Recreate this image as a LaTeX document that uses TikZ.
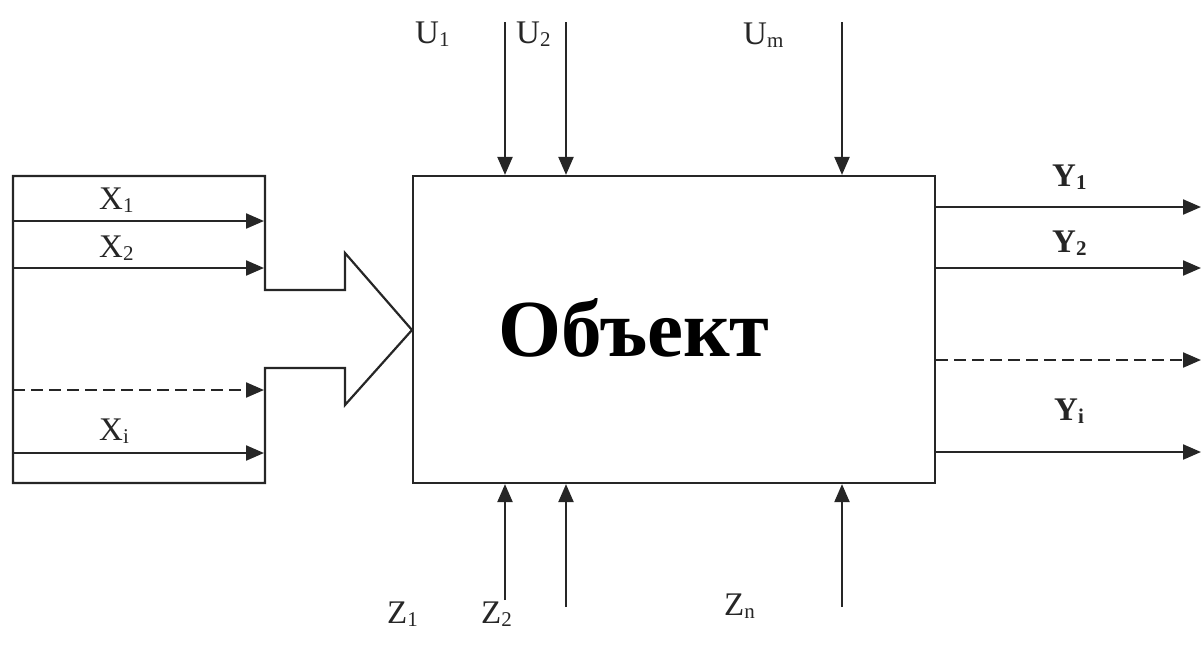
\documentclass[tikz,border=0pt]{standalone}
\usepackage{fontspec}
\setmainfont{Liberation Serif}
\usetikzlibrary{arrows.meta}
\newcommand{\sbx}[1]{\raisebox{-0.12em}{\fontsize{21}{21}\selectfont #1}}
\tikzset{
  ln/.style={line width=2.2pt, draw=black!85},
  arr/.style={ln, -{Triangle[length=18pt,width=15pt]}},
  dsh/.style={arr, dash pattern=on 12pt off 6pt},
  lbl/.style={inner sep=0pt, anchor=base west, font=\fontsize{33}{33}\selectfont, text=black!85},
  blbl/.style={lbl, font=\fontsize{33}{33}\selectfont\bfseries},
  box/.style={ln, fill=white, inner sep=0pt}
}
\begin{document}
\begin{tikzpicture}[x=1pt,y=-1pt]
\useasboundingbox (0,0) rectangle (1201,646);
% object box
\node[box, minimum width=522pt, minimum height=307pt] (obj) at (674,329.5) {};
\node[inner sep=0pt, anchor=base, font=\fontsize{81}{81}\selectfont\bfseries] (objtxt) at (634,356) {Объект};
% left input block with big arrow
\draw[ln, line join=miter] (265,290) -- (265,176) -- (13,176) -- (13,483) -- (265,483) -- (265,368)
  -- (345,368) -- (345,405) -- (412,330) -- (345,253) -- (345,290) -- cycle;
\coordinate (x1s) at (13,221); \coordinate (x1e) at (264,221);
\coordinate (x2s) at (13,268); \coordinate (x2e) at (264,268);
\coordinate (x3s) at (13,390); \coordinate (x3e) at (264,390);
\coordinate (x4s) at (13,453); \coordinate (x4e) at (264,453);
\draw[arr] (x1s) -- (x1e);
\draw[arr] (x2s) -- (x2e);
\draw[dsh] (x3s) -- (x3e);
\draw[arr] (x4s) -- (x4e);
\node[lbl] (lx1) at (99,209) {X\sbx{1}};
\node[lbl] (lx2) at (99,257) {X\sbx{2}};
\node[lbl] (lxi) at (99,440) {X\sbx{i}};
% top inputs
\coordinate (u1) at (505,22); \coordinate (u2) at (566,22); \coordinate (um) at (842,22);
\draw[arr] (u1) -- (u1 |- obj.north);
\draw[arr] (u2) -- (u2 |- obj.north);
\draw[arr] (um) -- (um |- obj.north);
\node[lbl] (lu1) at (415,43) {U\sbx{1}};
\node[lbl] (lu2) at (516,43) {U\sbx{2}};
\node[lbl] (lum) at (743,44) {U\sbx{m}};
% bottom disturbances
\coordinate (z1) at (505,600); \coordinate (z2) at (566,607); \coordinate (zn) at (842,607);
\draw[arr] (z1) -- (z1 |- obj.south);
\draw[arr] (z2) -- (z2 |- obj.south);
\draw[arr] (zn) -- (zn |- obj.south);
\node[lbl] (lz1) at (387,623) {Z\sbx{1}};
\node[lbl] (lz2) at (481,623) {Z\sbx{2}};
\node[lbl] (lzn) at (724,615) {Z\sbx{n}};
% outputs
\coordinate (y1) at (1201,207); \coordinate (y2) at (1201,268);
\coordinate (y3) at (1201,360); \coordinate (y4) at (1201,452);
\draw[arr] (obj.east |- y1) -- (y1);
\draw[arr] (obj.east |- y2) -- (y2);
\draw[dsh] (obj.east |- y3) -- (y3);
\draw[arr] (obj.east |- y4) -- (y4);
\node[blbl] (ly1) at (1052,186) {Y\sbx{\bfseries 1}};
\node[blbl] (ly2) at (1052,252) {Y\sbx{\bfseries 2}};
\node[blbl] (lyi) at (1054,420) {Y\sbx{\bfseries i}};
\end{tikzpicture}
\end{document}
